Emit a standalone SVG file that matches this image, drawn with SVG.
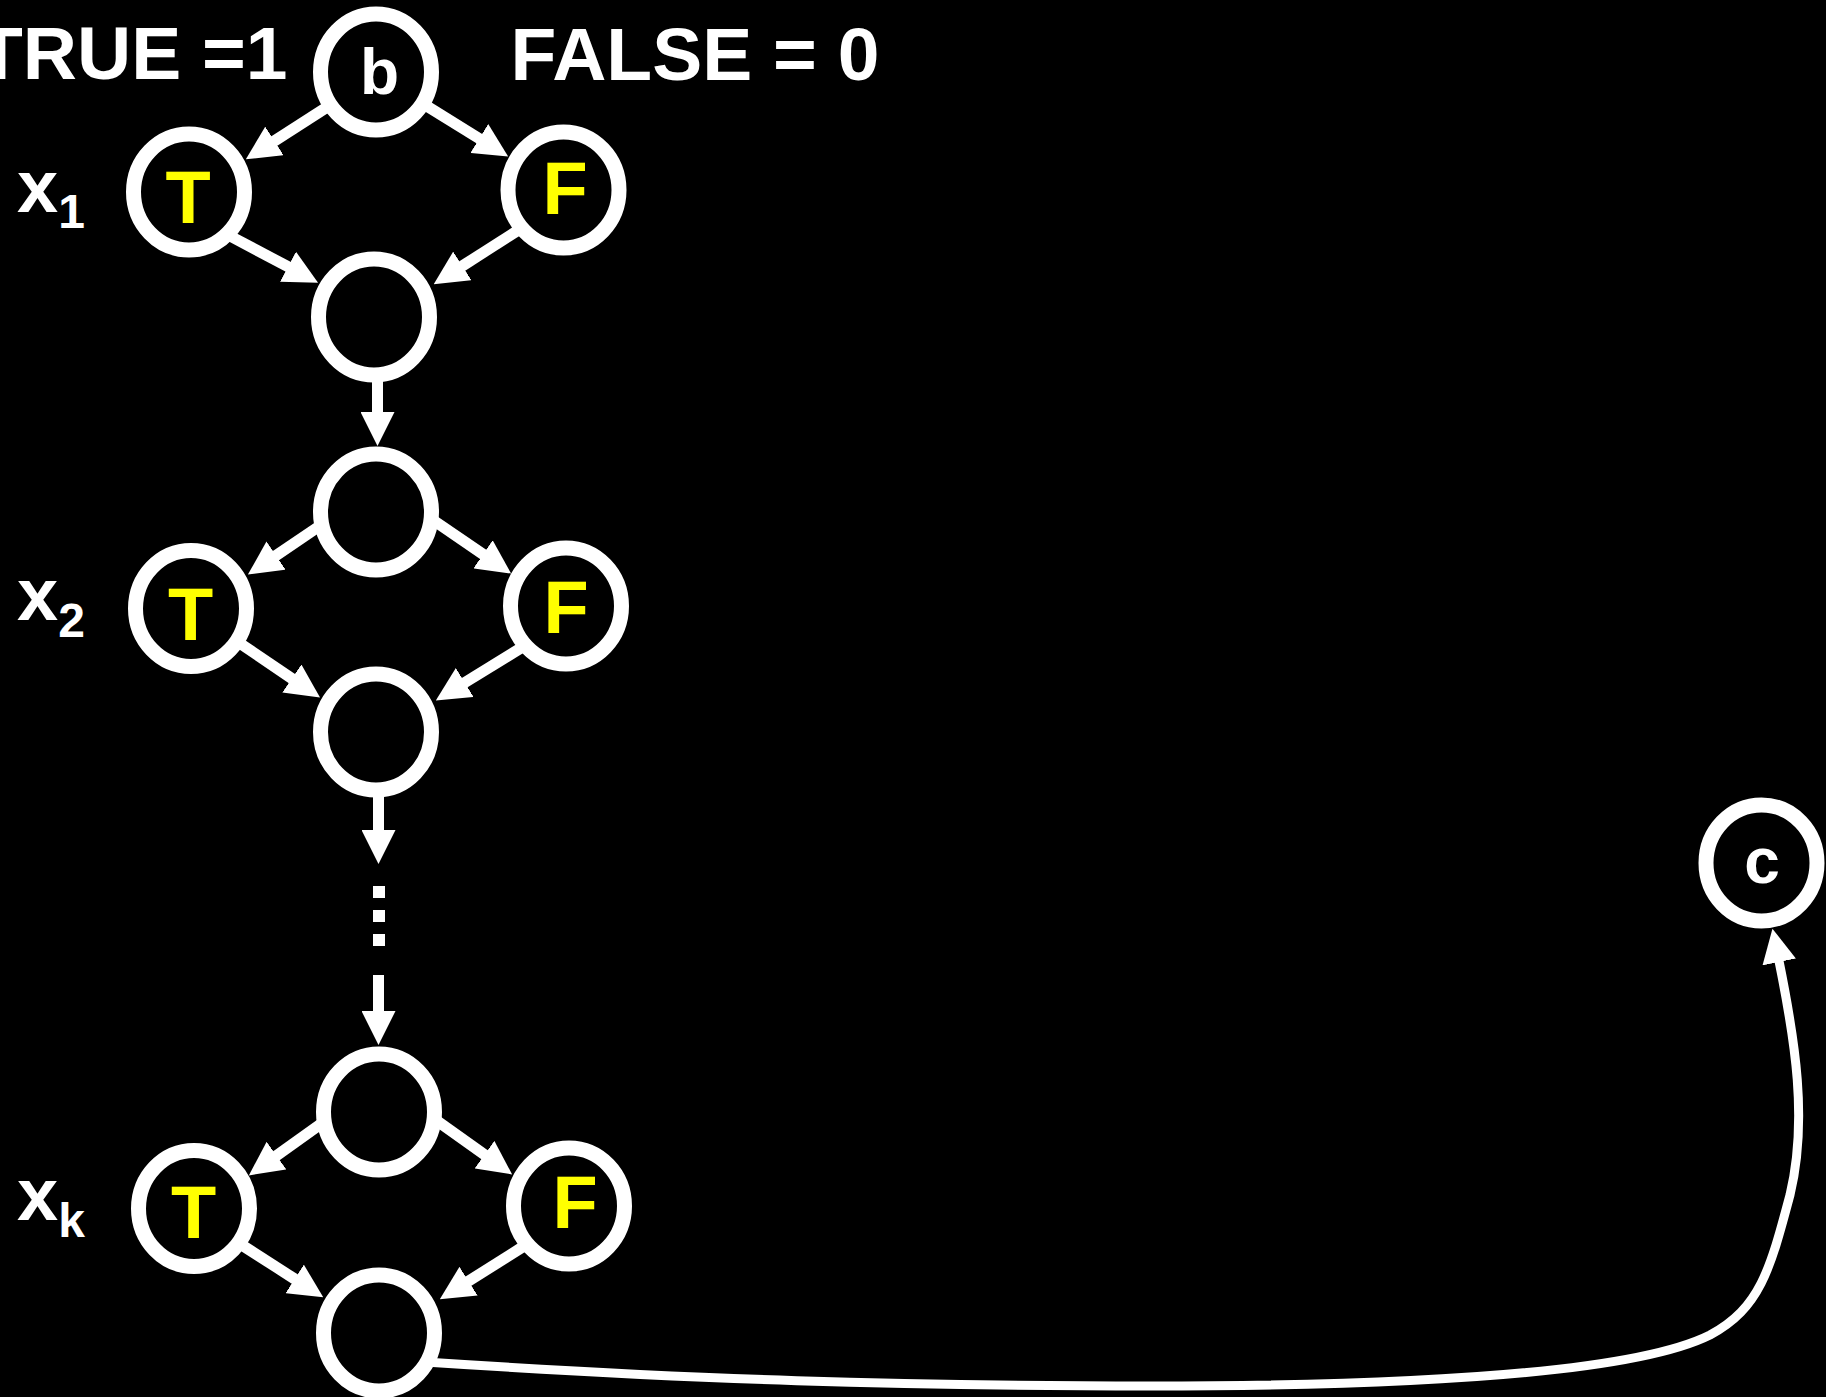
<svg xmlns="http://www.w3.org/2000/svg" width="1826" height="1397" viewBox="0 0 1826 1397">
<style>
.ring{fill:#000;stroke:#fff;stroke-width:15}
.con{fill:none;stroke:#fff;stroke-width:11}
.lbl{font-family:"Liberation Sans",Arial,Helvetica,sans-serif;font-weight:bold;fill:#fff}
.tf{font-family:"Liberation Sans",Arial,Helvetica,sans-serif;font-weight:bold;fill:#ffff00;font-size:74px;text-anchor:middle}
.nl{font-family:"Liberation Sans",Arial,Helvetica,sans-serif;font-weight:bold;fill:#fff;font-size:64px;text-anchor:middle}
</style>
<defs>
<marker id="ah" markerUnits="userSpaceOnUse" viewBox="0 0 34 34" refX="1" refY="17" markerWidth="34" markerHeight="34" orient="auto">
<path d="M0,0 L34,17 L0,34 Z" fill="#fff"/>
</marker>
</defs>
<rect x="0" y="0" width="1826" height="1397" fill="#000"/>

<g id="labels">
<text class="lbl" x="-23" y="79" font-size="75">TRUE =1</text>
<text class="lbl" x="510.5" y="80" font-size="75">FALSE = 0</text>
<text class="lbl" x="17" y="212" font-size="74">x<tspan font-size="48" dy="16">1</tspan></text>
<text class="lbl" x="17" y="620" font-size="74">x<tspan font-size="48" dy="17">2</tspan></text>
<text class="lbl" x="17" y="1220" font-size="74">x<tspan font-size="48" dy="17">k</tspan></text>
</g>

<g id="connectors">
<line class="con" x1="335" y1="102" x2="273.6" y2="141.5" marker-end="url(#ah)"/>
<line class="con" x1="417" y1="100" x2="480.1" y2="139.1" marker-end="url(#ah)"/>
<line class="con" x1="230" y1="236" x2="288.9" y2="267.2" marker-end="url(#ah)"/>
<line class="con" x1="520" y1="229" x2="461.5" y2="266.5" marker-end="url(#ah)"/>
<line class="con" x1="377.5" y1="375" x2="377.5" y2="413" marker-end="url(#ah)"/>
<line class="con" x1="324" y1="523" x2="275.2" y2="556.1" marker-end="url(#ah)"/>
<line class="con" x1="430" y1="518" x2="483.9" y2="554.9" marker-end="url(#ah)"/>
<line class="con" x1="235" y1="640" x2="292.7" y2="679.1" marker-end="url(#ah)"/>
<line class="con" x1="529" y1="643" x2="463.9" y2="683.1" marker-end="url(#ah)"/>
<line class="con" x1="378.5" y1="790" x2="378.5" y2="831" marker-end="url(#ah)"/>
<rect x="373" y="886" width="12" height="12" fill="#fff"/>
<rect x="373" y="910" width="12" height="12" fill="#fff"/>
<rect x="373" y="934" width="12" height="12" fill="#fff"/>
<line class="con" x1="378.5" y1="975" x2="378.5" y2="1012" marker-end="url(#ah)"/>
<line class="con" x1="325" y1="1121" x2="275.7" y2="1156.2" marker-end="url(#ah)"/>
<line class="con" x1="433" y1="1118" x2="485.3" y2="1155.3" marker-end="url(#ah)"/>
<line class="con" x1="234" y1="1240" x2="295.5" y2="1279.5" marker-end="url(#ah)"/>
<line class="con" x1="532" y1="1241" x2="467.7" y2="1281.7" marker-end="url(#ah)"/>
<path class="con" style="stroke-width:9" d="M425,1362 C700,1380 900,1386 1150,1386 C1450,1386 1640,1370 1710,1335 C1760,1308 1770,1270 1790,1195 C1808,1120 1795,1040 1779,961" marker-end="url(#ah)"/>
</g>

<g id="node-b"><ellipse class="ring" cx="376" cy="72" rx="55.5" ry="58"/><text class="nl" x="379.5" y="94">b</text></g>
<g id="node-x1-T"><ellipse class="ring" cx="189" cy="192" rx="55.5" ry="58"/><text class="tf" x="188" y="223">T</text></g>
<g id="node-x1-F"><ellipse class="ring" cx="563.5" cy="190" rx="55.5" ry="58"/><text class="tf" x="565" y="214">F</text></g>
<g id="node-m1"><ellipse class="ring" cx="374" cy="317" rx="55.5" ry="58"/></g>
<g id="node-x2-top"><ellipse class="ring" cx="376" cy="512" rx="55.5" ry="58"/></g>
<g id="node-x2-T"><ellipse class="ring" cx="191" cy="608.5" rx="55.5" ry="58"/><text class="tf" x="190.5" y="640">T</text></g>
<g id="node-x2-F"><ellipse class="ring" cx="566" cy="606" rx="55.5" ry="58"/><text class="tf" x="566" y="633">F</text></g>
<g id="node-m2"><ellipse class="ring" cx="376" cy="732" rx="55.5" ry="58"/></g>
<g id="node-xk-top"><ellipse class="ring" cx="379" cy="1112" rx="55.5" ry="58"/></g>
<g id="node-xk-T"><ellipse class="ring" cx="194" cy="1208.5" rx="55.5" ry="58"/><text class="tf" x="193.5" y="1238">T</text></g>
<g id="node-xk-F"><ellipse class="ring" cx="569" cy="1206" rx="55.5" ry="58"/><text class="tf" x="575" y="1228">F</text></g>
<g id="node-mk"><ellipse class="ring" cx="379" cy="1333" rx="55.5" ry="58"/></g>
<g id="node-c"><ellipse class="ring" cx="1761.5" cy="863" rx="55.5" ry="58"/><text class="nl" x="1762" y="883">c</text></g>
</svg>
